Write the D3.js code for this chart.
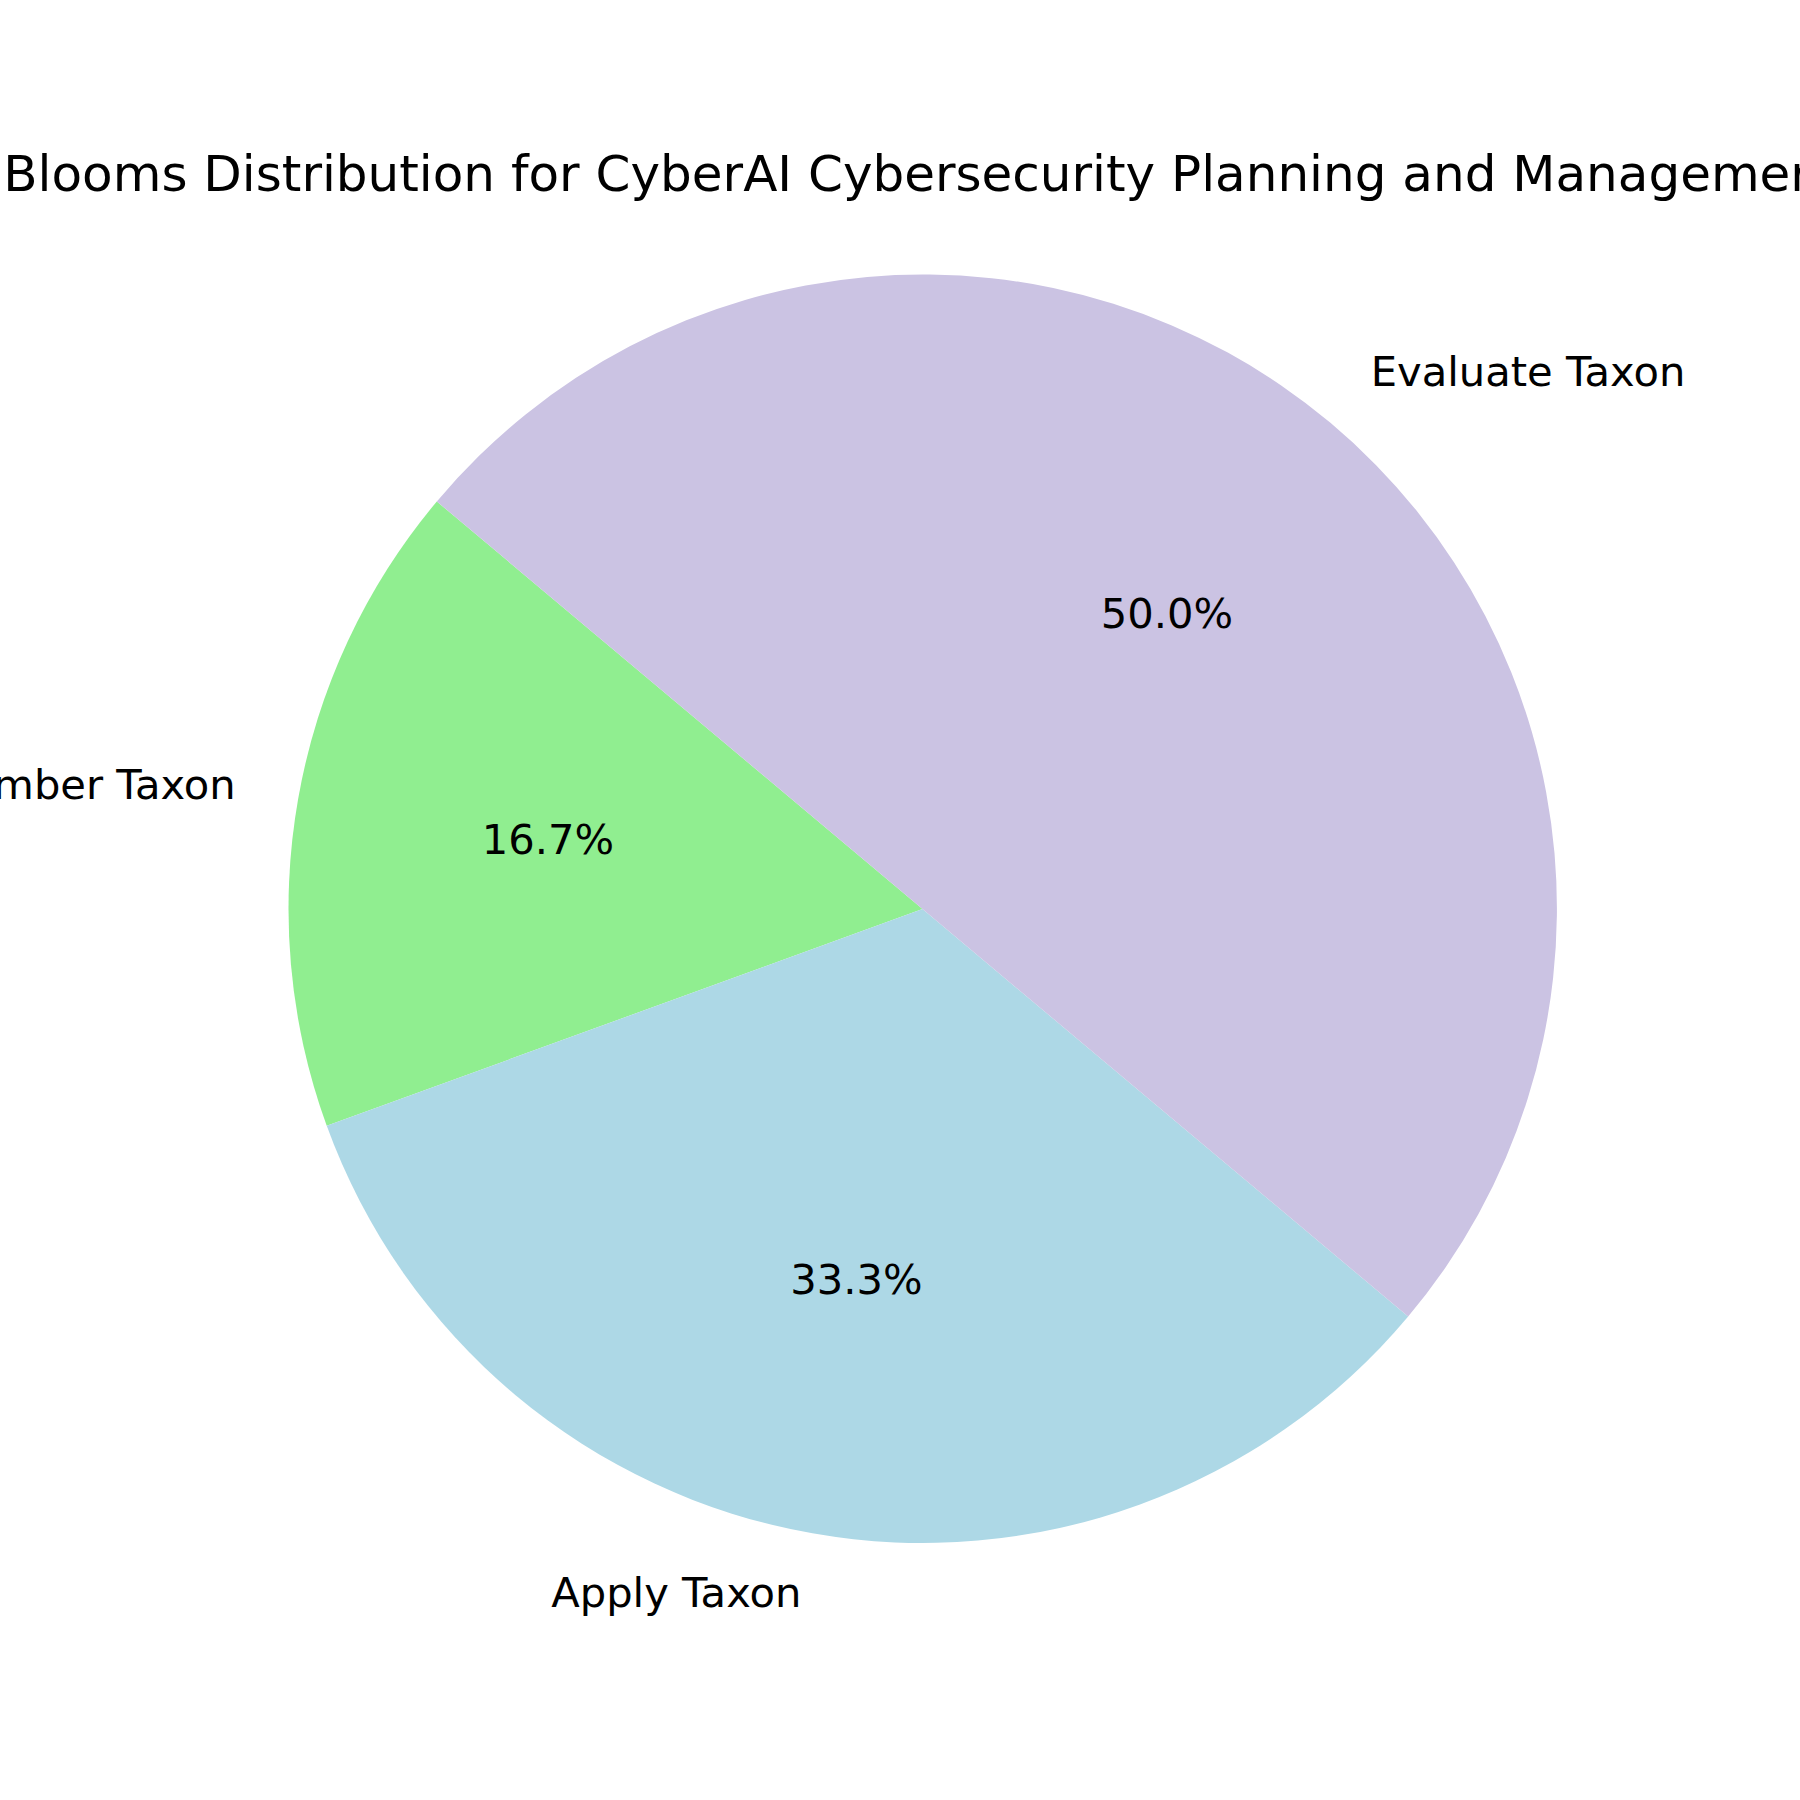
<!DOCTYPE html>
<html>
<head>
<meta charset="utf-8">
<script src="https://cdn.jsdelivr.net/npm/d3@7"></script>
<style>
  html, body { margin: 0; padding: 0; background: #fff; }
  svg text { font-family: "DejaVu Sans", sans-serif; fill: #000; }
</style>
</head>
<body>
<div id="chart"></div>
<script>
// chart data
const categories = ["Remember Taxon", "Apply Taxon", "Evaluate Taxon"];
const counts = [1, 2, 3];
const sliceColors = ["#90EE90", "#ADD8E6", "#CBC3E3"];
const titleText = "Blooms Distribution for CyberAI Cybersecurity Planning and Management";

const W = 1800, H = 1800;
const cx = 922.5, cy = 909, radius = 634;
const startAngle = 140; // degrees, counter-clockwise like matplotlib

let svg = d3.select("#chart").append("svg")
    .attr("width", W)
    .attr("height", H);

svg.append("rect").attr("width", W).attr("height", H).attr("fill", "#fff");

// title
svg.append("text")
    .attr("x", cx)
    .attr("y", 191)
    .attr("text-anchor", "middle")
    .style("font-size", "50px")
    .text(titleText);

let total = d3.sum(counts);

// matplotlib angles -> d3 angles (d3: 0 at 12 o'clock, clockwise)
let toD3 = deg => (90 - deg) * Math.PI / 180;

let slices = [];
let acc = startAngle;
counts.forEach((v, i) => {
    let span = v / total * 360;
    slices.push({ name: categories[i], value: v, color: sliceColors[i], a0: acc, a1: acc + span });
    acc += span;
});

let arc = d3.arc().innerRadius(0).outerRadius(radius);

let g = svg.append("g").attr("transform", "translate(" + cx + "," + cy + ")");

g.selectAll("path")
    .data(slices)
    .enter().append("path")
    .attr("d", d => arc({ startAngle: toD3(d.a1), endAngle: toD3(d.a0) }))
    .attr("fill", d => d.color);

let fmt = d3.format(".1f");

// category labels at 1.1 r
g.selectAll(".label")
    .data(slices)
    .enter().append("text")
    .attr("class", "label")
    .attr("x", d => 1.1 * radius * Math.cos((d.a0 + d.a1) / 2 * Math.PI / 180))
    .attr("y", d => -1.1 * radius * Math.sin((d.a0 + d.a1) / 2 * Math.PI / 180))
    .attr("dy", "0.26em")
    .attr("text-anchor", d => Math.cos((d.a0 + d.a1) / 2 * Math.PI / 180) < 0 ? "end" : "start")
    .style("font-size", "41.67px")
    .text(d => d.name);

// percentages at 0.6 r
g.selectAll(".pct")
    .data(slices)
    .enter().append("text")
    .attr("class", "pct")
    .attr("x", d => 0.6 * radius * Math.cos((d.a0 + d.a1) / 2 * Math.PI / 180))
    .attr("y", d => -0.6 * radius * Math.sin((d.a0 + d.a1) / 2 * Math.PI / 180))
    .attr("dy", "0.26em")
    .attr("text-anchor", "middle")
    .style("font-size", "41.67px")
    .text(d => fmt(d.value / total * 100) + "%");
</script>
</body>
</html>
